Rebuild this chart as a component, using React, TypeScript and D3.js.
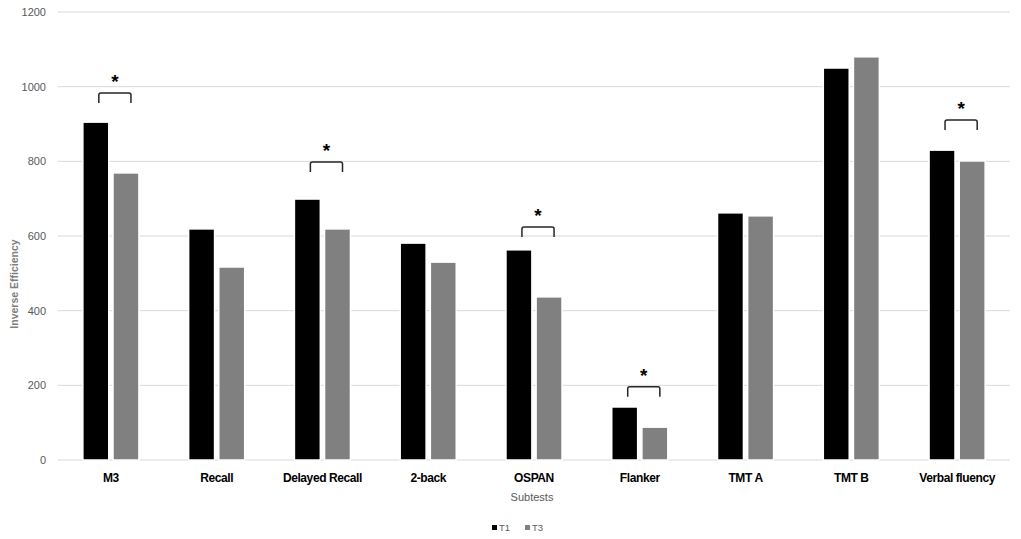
import React, { useEffect, useRef } from 'react';
import * as d3 from 'd3';

const subtests = ['M3', 'Recall', 'Delayed Recall', '2-back', 'OSPAN', 'Flanker', 'TMT A', 'TMT B', 'Verbal fluency'];
const t1Values = [905, 619, 699, 581, 563, 142, 662, 1050, 830];
const t3Values = [769, 517, 619, 530, 437, 88, 654, 1080, 801];
const yTicks = [0, 200, 400, 600, 800, 1000, 1200];
// significance brackets: subtest and height of the bracket in data units
const sigSubtests = ['M3', 'Delayed Recall', 'OSPAN', 'Flanker', 'Verbal fluency'];
const sigLevels = [983, 798, 624, 196, 911];

const seriesNames = ['T1', 'T3'];
const seriesColors = ['#000000', '#808080'];

const FONT = "'Liberation Sans', Arial, sans-serif";

const App: React.FC = () => {
  const ref = useRef<SVGSVGElement>(null);

  useEffect(() => {
    const svg = d3.select(ref.current);
    svg.html('');
    const width = 1021;
    const height = 539;
    const margin = { left: 58, right: 11, top: 12, bottom: 79 };

    const x = d3.scaleBand<string>()
      .domain(subtests)
      .range([margin.left, width - margin.right])
      .paddingInner(0)
      .paddingOuter(0);
    const y = d3.scaleLinear().domain([0, 1200]).range([height - margin.bottom, margin.top]);

    const inner = d3.scaleBand<string>()
      .domain(seriesNames)
      .range([x.bandwidth() * 0.235, x.bandwidth() * 0.765])
      .paddingInner(0.14);

    // grid
    svg.append('g')
      .selectAll('line')
      .data(yTicks)
      .enter()
      .append('line')
      .attr('x1', margin.left)
      .attr('x2', width - margin.right)
      .attr('y1', d => y(d))
      .attr('y2', d => y(d))
      .attr('stroke', '#d9d9d9')
      .attr('stroke-width', 1);

    svg.append('g')
      .selectAll('text')
      .data(yTicks)
      .enter()
      .append('text')
      .attr('x', 46)
      .attr('y', d => y(d))
      .attr('dy', '0.35em')
      .attr('text-anchor', 'end')
      .style('font-family', FONT)
      .style('font-size', '11px')
      .style('fill', '#595959')
      .text(d => d);

    // bars
    const series = [t1Values, t3Values];
    series.forEach((vals, si) => {
      svg.append('g')
        .selectAll('rect')
        .data(subtests)
        .enter()
        .append('rect')
        .attr('x', d => (x(d) ?? 0) + (inner(seriesNames[si]) ?? 0))
        .attr('width', inner.bandwidth())
        .attr('y', (d, i) => y(vals[i]))
        .attr('height', (d, i) => y(0) - y(vals[i]))
        .attr('fill', seriesColors[si])
        .attr('stroke', '#ffffff')
        .attr('stroke-width', 1.5);
    });

    // significance brackets
    const bw = inner.bandwidth();
    sigSubtests.forEach((s, i) => {
      const bx = x(s) ?? 0;
      const left = bx + (inner('T1') ?? 0) + bw / 2 + 3;
      const right = bx + (inner('T3') ?? 0) + bw / 2 + 5;
      const top = y(sigLevels[i]);
      const r = 2;
      svg.append('path')
        .attr('d', `M${left},${top + 10} L${left},${top + r} Q${left},${top} ${left + r},${top} L${right - r},${top} Q${right},${top} ${right},${top + r} L${right},${top + 10}`)
        .attr('fill', 'none')
        .attr('stroke', '#262626')
        .attr('stroke-width', 1.5);
      svg.append('text')
        .attr('x', (left + right) / 2)
        .attr('y', top - 5)
        .attr('text-anchor', 'middle')
        .style('font-family', FONT)
        .style('font-size', '19px')
        .style('font-weight', 'bold')
        .style('fill', '#000')
        .text('*');
    });

    // category labels
    svg.append('g')
      .selectAll('text')
      .data(subtests)
      .enter()
      .append('text')
      .attr('x', d => (x(d) ?? 0) + x.bandwidth() / 2)
      .attr('y', 482)
      .attr('text-anchor', 'middle')
      .style('font-family', FONT)
      .style('font-size', '12px')
      .style('font-weight', 'bold')
      .style('letter-spacing', '-0.4px')
      .style('fill', '#000')
      .text(d => d);

    // axis titles
    svg.append('text')
      .attr('x', 532)
      .attr('y', 501)
      .attr('text-anchor', 'middle')
      .style('font-family', FONT)
      .style('font-size', '11px')
      .style('fill', '#595959')
      .text('Subtests');

    svg.append('text')
      .attr('transform', 'translate(18,284) rotate(-90)')
      .attr('text-anchor', 'middle')
      .style('font-family', FONT)
      .style('font-size', '10.5px')
      .style('font-weight', 'bold')
      .style('fill', '#7f7f7f')
      .text('Inverse Efficiency');

    // legend
    const legendX = [492, 525];
    seriesNames.forEach((name, i) => {
      svg.append('rect')
        .attr('x', legendX[i])
        .attr('y', 525)
        .attr('width', 5)
        .attr('height', 5)
        .attr('fill', seriesColors[i]);
      svg.append('text')
        .attr('x', legendX[i] + 7)
        .attr('y', 528)
        .attr('dy', '0.35em')
        .style('font-family', FONT)
        .style('font-size', '9.5px')
        .style('fill', '#595959')
        .text(name);
    });
  }, []);

  return <svg ref={ref} width={1021} height={539} style={{ position: 'absolute', left: 0, top: 0, background: '#fff' }}></svg>;
};

export default App;
